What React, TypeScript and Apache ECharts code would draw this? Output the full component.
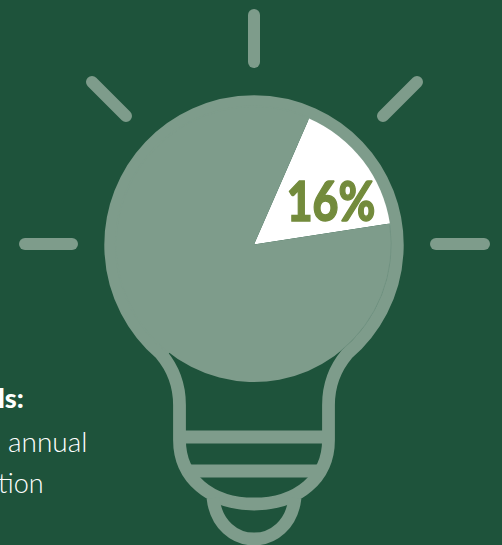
import React, { useEffect, useRef } from "react";
import * as echarts from "echarts";

const sliceNames = ["Share", "Remainder"];
const sliceValues = [16, 84];
const headingFragment = "ls:";
const bodyFragments = ["annual", "tion"];

const BG = "#1e533b";
const BULB = "#7e9c8b";
const SEAM = "#6c8f7d";
const HIGHLIGHT = "#ffffff";
const ACCENT = "#738b3c";

const CX = 254;
const CY = 244.5;
const RADIUS = 137.5;
const STROKE = 12.8;

const rays = [
  [254, 15, 254, 62],
  [92, 82, 126, 116],
  [417, 82, 383, 116],
  [25, 244, 72, 244],
  [436, 244, 484, 244],
];

const BULB_OUTLINE =
  "M179.5,405 C179.5,385 172,367 161,354 A143.3,143.3 0 1 1 347,354 C336,367 328.5,385 328.5,405 " +
  "L328.5,440 C328.5,478 298,504 254,504 C210,504 179.5,478 179.5,440 Z";
const BULB_BANDS = "M179.5,437 L328.5,437 M186,471 L322,471";
const BULB_TIP = "M213,498 C216,525 235,539 254,539 C273,539 292,525 295,498";

echarts.graphic.registerShape("bulbOutline", echarts.graphic.extendPath(BULB_OUTLINE, {}));
echarts.graphic.registerShape("bulbBands", echarts.graphic.extendPath(BULB_BANDS, {}));
echarts.graphic.registerShape("bulbTip", echarts.graphic.extendPath(BULB_TIP, {}));

const strokeStyle = { fill: "none", stroke: BULB, lineWidth: STROKE };
const toRad = (deg: number) => (deg * Math.PI) / 180;

export default function App() {
  const ref = useRef<HTMLDivElement>(null);

  useEffect(() => {
    if (!ref.current) return;
    const chart = echarts.init(ref.current, undefined, { renderer: "svg" });
    const textFont = "Lato, sans-serif";
    chart.setOption({
      animation: false,
      backgroundColor: BG,
      graphic: [
        ...rays.map(([x1, y1, x2, y2]) => ({
          type: "line",
          shape: { x1, y1, x2, y2 },
          style: { stroke: BULB, lineWidth: 12, lineCap: "round" },
        })),
        { type: "bulbOutline", x: 0, y: 0, style: strokeStyle },
        { type: "bulbBands", x: 0, y: 0, style: strokeStyle },
        { type: "bulbTip", x: 0, y: 0, style: strokeStyle },
        // Joins the pie and the glass outline along the top and left, under the pie.
        {
          type: "arc",
          shape: {
            cx: CX,
            cy: CY,
            r: RADIUS - 0.5,
            startAngle: toRad(-8),
            endAngle: toRad(128),
            clockwise: false,
          },
          style: { fill: "none", stroke: BULB, lineWidth: 4 },
        },
        // Faint seam where the glass outline meets the pie on the right.
        {
          type: "arc",
          z: 10,
          shape: {
            cx: CX,
            cy: CY,
            r: RADIUS - 0.3,
            startAngle: toRad(-8),
            endAngle: toRad(51),
            clockwise: true,
          },
          style: { fill: "none", stroke: SEAM, lineWidth: 0.6 },
        },
        {
          type: "text",
          z: 10,
          x: 331,
          y: 200,
          scaleX: 0.81,
          style: {
            text: `${sliceValues[0]}%`,
            fill: ACCENT,
            stroke: ACCENT,
            lineWidth: 1.4,
            font: `900 55px ${textFont}`,
            align: "center",
            verticalAlign: "middle",
          },
        },
        {
          type: "text",
          x: -2,
          y: 411,
          style: {
            text: headingFragment,
            fill: HIGHLIGHT,
            font: `900 27px ${textFont}`,
            verticalAlign: "bottom",
          },
        },
        {
          type: "text",
          x: 8,
          y: 427,
          style: {
            text: bodyFragments[0],
            fill: HIGHLIGHT,
            font: `300 28px ${textFont}`,
            verticalAlign: "top",
          },
        },
        {
          type: "text",
          x: -2,
          y: 469,
          style: {
            text: bodyFragments[1],
            fill: HIGHLIGHT,
            font: `300 27px ${textFont}`,
            verticalAlign: "top",
          },
        },
      ],
      series: [
        {
          type: "pie",
          center: [CX, CY],
          radius: [0, RADIUS],
          startAngle: 66.4,
          clockwise: true,
          silent: true,
          label: { show: false },
          labelLine: { show: false },
          data: sliceNames.map((name, i) => ({
            name,
            value: sliceValues[i],
            itemStyle: { color: i === 0 ? HIGHLIGHT : BULB },
          })),
        },
      ],
    });
    return () => chart.dispose();
  }, []);

  return (
    <div
      ref={ref}
      style={{ position: "fixed", left: 0, top: 0, width: 502, height: 545, overflow: "hidden" }}
    />
  );
}
